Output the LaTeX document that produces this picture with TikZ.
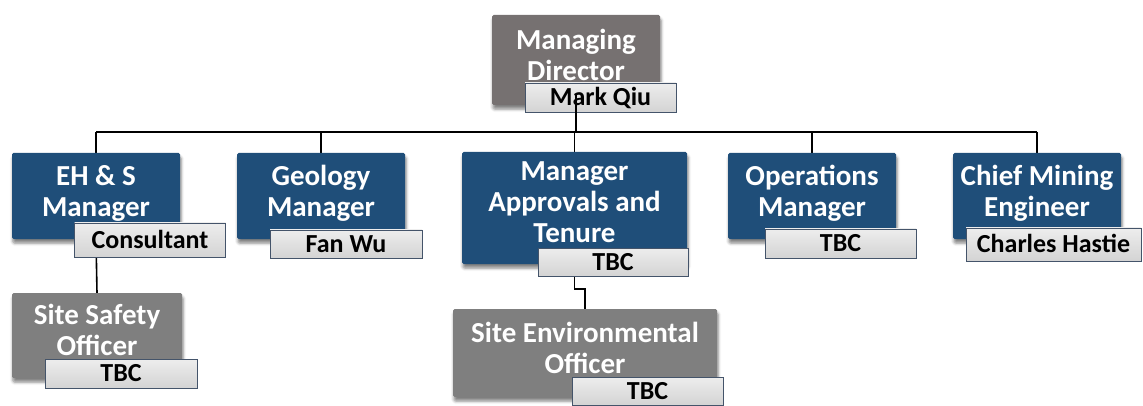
\documentclass[tikz,border=0pt]{standalone}
\usepackage{fontspec}
\setmainfont{Carlito}
\usetikzlibrary{shadows.blur,backgrounds}

\definecolor{roleblue}{HTML}{1F4E79}
\definecolor{headgray}{HTML}{767171}
\definecolor{sitegray}{HTML}{7F7F7F}
\definecolor{tagline}{HTML}{44546A}

\begin{document}
\begin{tikzpicture}[x=1pt,y=-1pt,
    role/.style={rectangle, rounded corners=1.5pt, text=white, align=center,
      font=\bfseries\fontsize{29}{31}\selectfont, inner sep=0pt, text depth=11pt,
      blur shadow={shadow xshift=1pt, shadow yshift=-4pt,
        shadow blur radius=3pt, shadow opacity=50}},
    tag/.style={rectangle, draw=tagline, line width=0.8pt,
      top color=black!7, bottom color=black!17, inner sep=0pt,
      font=\bfseries\fontsize{26}{28}\selectfont, text height=16.5pt, text depth=0pt,
      minimum width=151pt, minimum height=29pt},
    link/.style={line width=1.6pt}]
    \clip (0,0) rectangle (1143,406);

    % top of the tree
    \node[role, fill=headgray, minimum width=168pt, minimum height=90pt] (md) at (576,60) {Managing\\Director};
    \node[tag] (mdname) at (600.5,97.5) {Mark Qiu};

    % managers
    \node[role, fill=roleblue, minimum width=168pt, minimum height=86pt] (ehs) at (96,196) {EH \& S\\Manager};
    \node[role, fill=roleblue, minimum width=168pt, minimum height=86pt] (geo) at (321,196) {Geology\\Manager};
    \node[role, fill=roleblue, minimum width=225pt, minimum height=112pt] (appr) at (574.5,208) {Manager\\Approvals and\\Tenure};
    \node[role, fill=roleblue, minimum width=168pt, minimum height=86pt] (ops) at (812,196) {Operations\\Manager};
    \node[role, fill=roleblue, minimum width=168pt, minimum height=86pt] (cme) at (1037,196) {Chief Mining\\Engineer};

    \node[tag, minimum height=34pt] (ehsname) at (150,240) {Consultant};
    \node[tag, minimum width=152pt, minimum height=28pt] (geoname) at (346,244) {Fan Wu};
    \node[tag, minimum width=150pt, minimum height=28pt] (apprname) at (613,262) {TBC};
    \node[tag] (opsname) at (840.5,243.5) {TBC};
    \node[tag, minimum width=175pt, minimum height=33pt] (cmename) at (1053.5,244.5) {Charles Hastie};

    % site officers
    \node[role, fill=sitegray, minimum width=170pt, minimum height=85pt] (safety) at (97,335.5) {Site Safety\\Officer};
    \node[role, fill=sitegray, minimum width=264pt, minimum height=88pt] (env) at (585,353) {Site Environmental\\Officer};

    \node[tag, minimum width=152pt] (safetyname) at (121,373.5) {TBC};
    \node[tag, minimum height=28pt] (envname) at (647.5,391) {TBC};

    % reporting lines
    \coordinate (bus) at (0,132);
    \begin{pgfonlayer}{background}
        \draw[link] (ehs.north |- bus) -- (cme.north |- bus);
        \draw[link] (ehs.north |- bus) -- (ehs.north);
        \draw[link] (geo.north |- bus) -- (geo.north);
        \draw[link] (appr.north |- bus) -- (appr.north);
        \draw[link] (ops.north |- bus) -- (ops.north);
        \draw[link] (cme.north |- bus) -- (cme.north);
        \draw[link] (ehs.south) -- (safety.north);
        \draw[link] (appr.south) -- ++(0,25) -| (env.north);
    \end{pgfonlayer}
    \draw[link] ([yshift=10pt]md.south) -- (md.south |- bus);
\end{tikzpicture}
\end{document}
